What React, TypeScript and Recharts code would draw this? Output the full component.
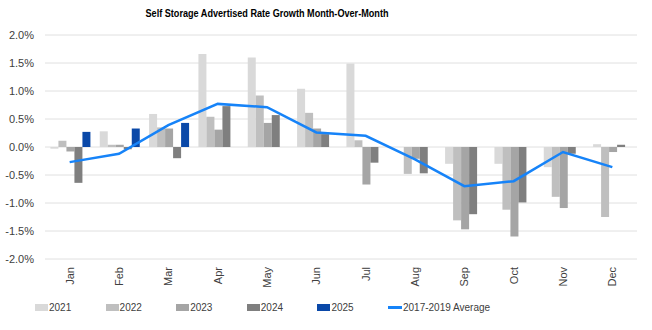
import React from 'react';
import { ComposedChart, Bar, Line, XAxis, YAxis, CartesianGrid } from 'recharts';

const months = ['Jan', 'Feb', 'Mar', 'Apr', 'May', 'Jun', 'Jul', 'Aug', 'Sep', 'Oct', 'Nov', 'Dec'];
const y2021 = [-0.03, 0.28, 0.59, 1.66, 1.60, 1.04, 1.49, 0.0, -0.30, -0.30, -0.36, 0.05];
const y2022 = [0.11, 0.04, 0.35, 0.54, 0.92, 0.61, 0.12, -0.48, -1.31, -1.12, -0.89, -1.25];
const y2023 = [-0.08, 0.04, 0.33, 0.31, 0.43, 0.33, -0.67, -0.21, -1.47, -1.60, -1.09, -0.09];
const y2024 = [-0.64, -0.04, -0.20, 0.73, 0.57, 0.23, -0.28, -0.47, -1.20, -0.99, -0.12, 0.04];
const y2025 = [0.27, 0.33, 0.43, null, null, null, null, null, null, null, null, null];
const avg1719 = [-0.27, -0.12, 0.39, 0.77, 0.71, 0.26, 0.20, -0.22, -0.70, -0.61, -0.09, -0.36];
const yTicks = [-2, -1.5, -1, -0.5, 0, 0.5, 1, 1.5, 2];

const series = [
  { key: 'y2021', name: '2021', color: '#d9d9d9' },
  { key: 'y2022', name: '2022', color: '#bfbfbf' },
  { key: 'y2023', name: '2023', color: '#a5a5a5' },
  { key: 'y2024', name: '2024', color: '#7f7f7f' },
  { key: 'y2025', name: '2025', color: '#0a48a8' },
];
const lineSeries = { key: 'avg', name: '2017-2019 Average', color: '#1683f8' };

const data = months.map((m, i) => ({
  month: m,
  y2021: y2021[i],
  y2022: y2022[i],
  y2023: y2023[i],
  y2024: y2024[i],
  y2025: y2025[i],
  avg: avg1719[i],
}));

const FONT = '"Liberation Sans", Arial, sans-serif';
const TITLE_FONT = '"Liberation Sans Narrow", "Liberation Sans", Arial, sans-serif';

const MonthTick = (props: any) => {
  const { x, y, payload } = props;
  return (
    <text
      x={x}
      y={y}
      transform={`rotate(-90, ${x}, ${y})`}
      textAnchor="end"
      dy="0.35em"
      fontSize={11}
      fill="#404040"
      fontFamily={FONT}
    >
      {payload.value}
    </text>
  );
};

export default function App() {
  return (
    <div style={{ position: 'absolute', left: 0, top: 0, width: 652, height: 330, background: '#fff', fontFamily: FONT }}>
      <svg width={652} height={24} style={{ position: 'absolute', left: 0, top: 0 }}>
        <text x={267} y={17} textAnchor="middle" fontSize={11.5} fontWeight="bold" fill="#000" fontFamily={TITLE_FONT} textLength={243} lengthAdjust="spacingAndGlyphs">
          Self Storage Advertised Rate Growth Month-Over-Month
        </text>
      </svg>
      <div style={{ position: 'absolute', left: 0, top: 0 }}>
        <ComposedChart
          width={652}
          height={330}
          data={data}
          margin={{ top: 35, right: 15, bottom: 31, left: 0 }}
          barCategoryGap="11%"
          barGap={0}
        >
          <CartesianGrid vertical={false} stroke="#e0e0e0" />
          <XAxis dataKey="month" axisLine={false} tickLine={false} tick={<MonthTick />} height={40} interval={0} />
          <YAxis
            domain={[-2, 2]}
            ticks={yTicks}
            width={45}
            axisLine={false}
            tickLine={false}
            tickMargin={5}
            tick={{ fontSize: 11, fill: '#404040', fontFamily: FONT }}
            tickFormatter={(v: number) => `${v.toFixed(1)}%`}
            interval={0}
          />
          {series.map((s) => (
            <Bar key={s.key} dataKey={s.key} name={s.name} fill={s.color} isAnimationActive={false} />
          ))}
          <Line
            type="linear"
            dataKey={lineSeries.key}
            name={lineSeries.name}
            stroke={lineSeries.color}
            strokeWidth={2.5}
            dot={false}
            activeDot={false}
            isAnimationActive={false}
          />
        </ComposedChart>
      </div>
      <div style={{ position: 'absolute', left: 35, top: 302, display: 'flex', alignItems: 'center', fontSize: 10, color: '#404040', whiteSpace: 'nowrap' }}>
        {series.map((s) => (
          <div key={s.key} style={{ width: 70.6, display: 'flex', alignItems: 'center' }}>
            <span style={{ display: 'inline-block', width: 13, height: 7, background: s.color, marginRight: 1 }} />
            <span>{s.name}</span>
          </div>
        ))}
        <div style={{ display: 'flex', alignItems: 'center' }}>
          <span style={{ display: 'inline-block', width: 14, height: 3, background: lineSeries.color, marginRight: 1 }} />
          <span>{lineSeries.name}</span>
        </div>
      </div>
    </div>
  );
}
